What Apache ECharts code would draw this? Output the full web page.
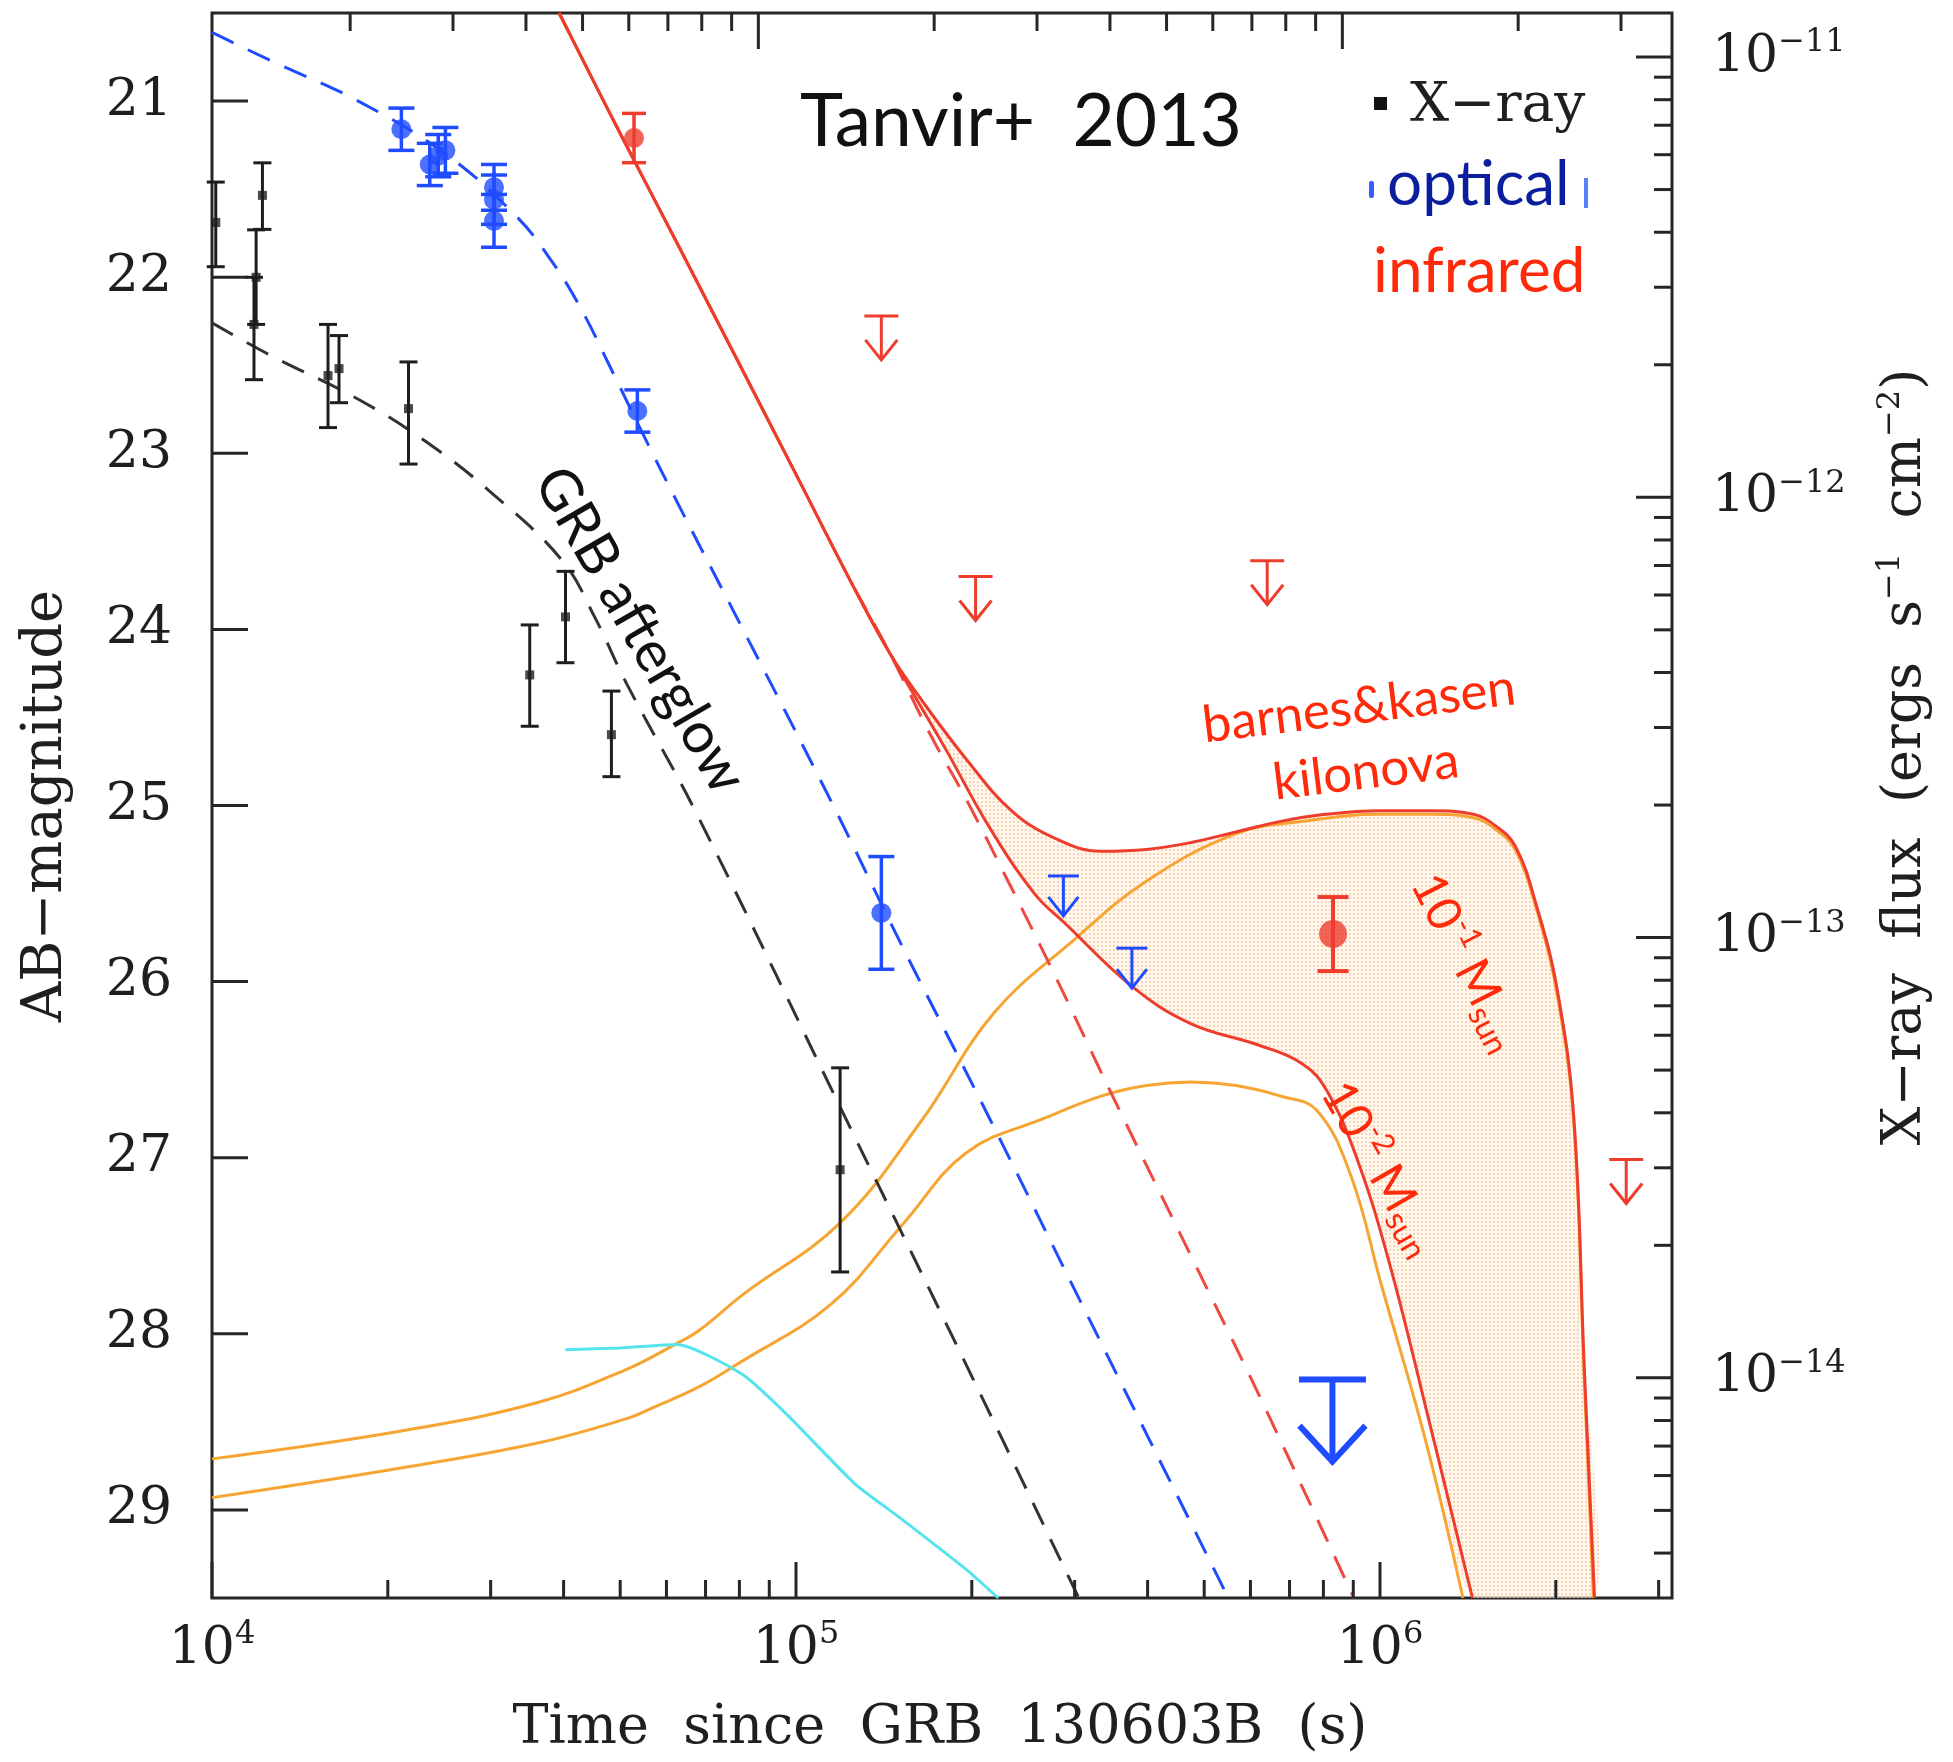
<!DOCTYPE html>
<html>
<head>
<meta charset="utf-8">
<title>GRB 130603B light curve</title>
<script src="https://cdn.jsdelivr.net/npm/echarts@6/dist/echarts.min.js"></script>
<style>
  html, body { margin: 0; padding: 0; background: #ffffff; }
  #chart { width: 1953px; height: 1762px; }
</style>
</head>
<body>
<div id="chart"></div>
<script>
// ---------------------------------------------------------------------------
// Time since GRB 130603B (s); optical/IR in AB magnitudes, X-ray as flux.
// ---------------------------------------------------------------------------

// X-ray detections (erg s^-1 cm^-2)
const xrayTime   = [1.015e4, 1.19e4, 1.18e4, 1.22e4, 1.58e4, 1.65e4, 2.17e4, 3.50e4, 4.03e4, 4.83e4, 1.19e5];
const xrayFlux   = [4.21e-12, 3.16e-12, 2.47e-12, 4.85e-12, 1.89e-12, 1.96e-12, 1.59e-12, 3.95e-13, 5.35e-13, 2.89e-13, 2.97e-14];
const xrayFluxHi = [5.20e-12, 4.05e-12, 3.16e-12, 5.75e-12, 2.47e-12, 2.33e-12, 2.03e-12, 5.13e-13, 6.79e-13, 3.63e-13, 5.06e-14];
const xrayFluxLo = [3.34e-12, 2.47e-12, 1.85e-12, 4.06e-12, 1.44e-12, 1.64e-12, 1.19e-12, 3.02e-13, 4.21e-13, 2.32e-13, 1.74e-14];

// optical detections (AB mag) and 1-sigma errors
const optTime = [2.11e4, 2.36e4, 2.44e4, 2.51e4, 3.04e4, 3.04e4, 3.04e4, 5.35e4, 1.40e5];
const optMag  = [21.16, 21.36, 21.31, 21.28, 21.49, 21.56, 21.68, 22.76, 25.61];
const optErr  = [0.12, 0.12, 0.12, 0.13, 0.13, 0.14, 0.15, 0.12, 0.32];
// optical upper limits
const optLimTime = [2.87e5, 3.76e5];
const optLimMag  = [25.40, 25.81];
const optDeepLimTime = [8.29e5];
const optDeepLimMag  = [28.26];

// near-infrared detections and upper limits
const irTime = [5.28e4];
const irMag  = [21.21];
const irErr  = [0.14];
const irLateTime = [8.31e5];
const irLateMag  = [25.73];
const irLateErr  = [0.21];
const irLimTime = [1.40e5, 2.03e5, 6.41e5, 2.64e6];
const irLimMag  = [22.22, 23.70, 23.61, 27.01];

// afterglow models
const optAgTime = [1.00e4, 1.26e4, 1.78e4, 2.51e4, 3.31e4, 3.80e4, 4.27e4, 4.79e4, 5.43e4, 6.31e4, 7.94e4, 1.15e5, 1.51e5, 2.14e5, 3.16e5, 5.50e5];
const optAgMag  = [20.61, 20.77, 21.00, 21.30, 21.65, 21.90, 22.17, 22.50, 22.87, 23.30, 23.94, 24.98, 25.78, 26.77, 27.90, 29.50];
const xrayAgTime = [1.00e4, 1.26e4, 1.78e4, 2.34e4, 3.02e4, 3.98e4, 4.52e4, 5.13e4, 6.76e4, 1.26e5, 1.95e5, 3.05e5];
const xrayAgFlux = [2.49e-12, 2.10e-12, 1.67e-12, 1.33e-12, 1.02e-12, 7.18e-13, 5.35e-13, 3.77e-13, 1.91e-13, 3.53e-14, 1.08e-14, 3.16e-15];
const irAgTime = [1.26e5, 1.45e5, 1.70e5, 1.96e5, 2.34e5, 2.79e5, 3.45e5, 4.75e5, 6.19e5, 9.02e5];
const irAgMag  = [23.77, 24.14, 24.60, 24.97, 25.47, 25.98, 26.62, 27.56, 28.34, 29.50];

// Barnes & Kasen kilonova, 1e-1 and 1e-2 Msun ejecta (IR)
const kn1Time = [1.00e4, 2.12e4, 3.61e4, 5.14e4, 6.21e4, 6.83e4, 8.09e4, 1.19e5, 1.64e5, 2.18e5, 3.00e5, 3.98e5, 5.67e5, 7.39e5, 1.00e6, 1.224e6, 1.445e6, 1.569e6, 1.704e6, 1.85e6, 2.01e6, 2.147e6, 2.237e6, 2.32e6];
const kn1Mag  = [28.71, 28.55, 28.39, 28.20, 28.06, 27.98, 27.78, 27.37, 26.79, 26.18, 25.76, 25.43, 25.16, 25.09, 25.05, 25.05, 25.07, 25.13, 25.25, 25.58, 26.07, 26.80, 28.25, 29.50];
const kn2Time = [1.00e4, 2.12e4, 3.61e4, 5.14e4, 5.68e4, 6.83e4, 7.95e4, 1.15e5, 1.53e5, 1.96e5, 2.69e5, 3.33e5, 3.98e5, 4.75e5, 5.67e5, 6.76e5, 7.79e5, 8.91e5, 1.005e6, 1.20e6, 1.387e6];
const kn2Mag  = [28.93, 28.76, 28.62, 28.48, 28.42, 28.30, 28.17, 27.83, 27.37, 26.97, 26.77, 26.65, 26.59, 26.57, 26.59, 26.65, 26.73, 27.10, 27.72, 28.62, 29.50];
// optical kilonova
const knOptTime = [4.03e4, 5.0e4, 6.25e4, 8.09e4, 9.66e4, 1.26e5, 1.50e5, 1.96e5, 2.22e5];
const knOptMag  = [28.09, 28.08, 28.06, 28.23, 28.46, 28.85, 29.04, 29.34, 29.50];

// IR afterglow + kilonova totals
const sum1Time = [3.93e4, 5.01e4, 6.31e4, 1.00e5, 1.26e5, 1.45e5, 1.64e5, 1.96e5, 2.34e5, 2.79e5, 3.33e5, 3.98e5, 4.75e5, 5.67e5, 6.76e5, 8.07e5, 1.00e6, 1.224e6, 1.445e6, 1.569e6, 1.704e6, 1.85e6, 2.01e6, 2.147e6, 2.237e6, 2.33e6];
const sum1Mag  = [20.50, 21.19, 21.83, 23.12, 23.77, 24.14, 24.40, 24.74, 25.03, 25.19, 25.26, 25.25, 25.21, 25.15, 25.09, 25.05, 25.03, 25.03, 25.05, 25.11, 25.23, 25.56, 26.04, 26.77, 28.18, 29.50];
const sum2Time = [3.93e4, 5.01e4, 6.31e4, 1.00e5, 1.26e5, 1.45e5, 1.79e5, 2.14e5, 2.56e5, 2.89e5, 3.77e5, 4.75e5, 6.19e5, 7.39e5, 8.11e5, 9.12e5, 1.038e6, 1.225e6, 1.44e6];
const sum2Mag  = [20.50, 21.19, 21.83, 23.12, 23.77, 24.14, 24.66, 25.12, 25.50, 25.67, 26.03, 26.24, 26.36, 26.47, 26.62, 27.00, 27.60, 28.55, 29.50];
const SHADE_START = 1.45e5; // the two totals part ways here

// axis ticks and labels
const timeMajorTicks = [1e4, 1e5, 1e6];
const timeMinorTicks = [2e4, 3e4, 4e4, 5e4, 6e4, 7e4, 8e4, 9e4, 2e5, 3e5, 4e5, 5e5, 6e5, 7e5, 8e5, 9e5, 2e6, 3e6];
const topMajorTicks = [1e5, 1e6];
const topMinorTicks = [2e4, 3e4, 4e4, 5e4, 6e4, 7e4, 8e4, 9e4, 2e5, 3e5, 4e5, 5e5, 6e5, 7e5, 8e5, 9e5, 2e6, 3e6];
const magTicks = [21, 22, 23, 24, 25, 26, 27, 28, 29];
const fluxMajorTicks = [1e-11, 1e-12, 1e-13, 1e-14];
const fluxMinorTicks = [4e-15, 5e-15, 6e-15, 7e-15, 8e-15, 9e-15,
  2e-14, 3e-14, 4e-14, 5e-14, 6e-14, 7e-14, 8e-14, 9e-14,
  2e-13, 3e-13, 4e-13, 5e-13, 6e-13, 7e-13, 8e-13, 9e-13,
  2e-12, 3e-12, 4e-12, 5e-12, 6e-12, 7e-12, 8e-12, 9e-12];

// ---------------------------------------------------------------------------
const T_MIN = 1e4, T_MAX = Math.pow(10, 6.5);
const TOP_AXIS_FACTOR = 1.16;          // the upper time axis runs offset from the lower one
const MAG_MIN = 20.5, MAG_MAX = 29.5;
// flux axis counts in units of 1e-15 erg s^-1 cm^-2 (m = 20.75 - 2.5 (log F + 11))
const FLUX_UNIT = 1e-15;
const FLUX_AX_MIN = Math.pow(10, -14.5) / FLUX_UNIT;
const FLUX_AX_MAX = Math.pow(10, -10.9) / FLUX_UNIT;

const AXIS_COLOR = '#262626';
const TEXT_COLOR = '#1f1f1f';
const BLUE = '#1f4cff';
const RED = '#ee3d2d';
const RED_TEXT = '#ff2a0a';
const ORANGE = '#f6a532';
const CYAN = '#55e3ee';
const BLACK = '#1e1e1e';
const SANS = 'Lato, "Open Sans", sans-serif';
const SERIF = '"DejaVu Serif", serif';
const MAJOR_LEN = 36, MINOR_LEN = 18, TICK_W = 3;

function pairs(times, values, scale) {
  return times.map((t, i) => [t, scale ? values[i] / scale : values[i]]);
}

function lineSeries(name, times, values, color, opts) {
  opts = opts || {};
  return {
    type: 'line', name,
    yAxisIndex: opts.yAxisIndex || 0,
    data: pairs(times, values, opts.scale),
    showSymbol: false, symbol: 'none', silent: true, clip: true,
    smooth: opts.smooth == null ? 0.4 : opts.smooth,
    lineStyle: { color, width: opts.width || 3, type: opts.dash || 'solid' },
    z: opts.z || 3
  };
}

function errorBars(name, times, lo, hi, color, capW, lw, yAxisIndex) {
  return {
    type: 'custom', name, yAxisIndex: yAxisIndex || 0, silent: true, z: 6,
    data: times.map((t, i) => [t, lo[i], hi[i]]),
    renderItem(params, api) {
      const a = api.coord([api.value(0), api.value(1)]);
      const b = api.coord([api.value(0), api.value(2)]);
      const st = { stroke: color, lineWidth: lw };
      return { type: 'group', children: [
        { type: 'line', shape: { x1: a[0], y1: a[1], x2: b[0], y2: b[1] }, style: st },
        { type: 'line', shape: { x1: a[0] - capW / 2, y1: a[1], x2: a[0] + capW / 2, y2: a[1] }, style: st },
        { type: 'line', shape: { x1: b[0] - capW / 2, y1: b[1], x2: b[0] + capW / 2, y2: b[1] }, style: st }
      ] };
    }
  };
}

function upperLimits(name, times, mags, color, o) {
  return {
    type: 'custom', name, silent: true, z: 6,
    data: pairs(times, mags),
    renderItem(params, api) {
      const p = api.coord([api.value(0), api.value(1)]);
      const x = p[0], y = p[1], tip = y + o.len;
      const st = { stroke: color, lineWidth: o.lw, fill: null, lineJoin: 'miter' };
      return { type: 'group', children: [
        { type: 'line', shape: { x1: x - o.cap / 2, y1: y, x2: x + o.cap / 2, y2: y }, style: st },
        { type: 'line', shape: { x1: x, y1: y, x2: x, y2: tip }, style: st },
        { type: 'polyline', shape: { points: [[x - o.head / 2, tip - o.headH], [x, tip], [x + o.head / 2, tip - o.headH]] }, style: st }
      ] };
    }
  };
}

function dotPattern() {
  const c = document.createElement('canvas');
  c.width = 4; c.height = 4;
  const g = c.getContext('2d');
  g.fillStyle = 'rgba(255, 240, 226, 0.5)';
  g.fillRect(0, 0, 4, 4);
  g.fillStyle = 'rgba(248, 196, 145, 0.7)';
  g.fillRect(1, 1, 2, 2);
  return c;
}

// region between the two afterglow + kilonova totals
const kilonovaBand = {
  type: 'custom', name: 'kilonova range', silent: true, clip: true, z: 1,
  data: [[SHADE_START, 25]],
  renderItem(params, api) {
    const pts = [];
    sum1Time.forEach((t, i) => { if (t >= SHADE_START) pts.push(api.coord([t, sum1Mag[i]])); });
    for (let i = sum2Time.length - 1; i >= 0; i--) {
      if (sum2Time[i] >= SHADE_START) pts.push(api.coord([sum2Time[i], sum2Mag[i]]));
    }
    return { type: 'polygon', shape: { points: pts, smooth: 0.2 },
             style: { fill: { image: dotPattern(), repeat: 'repeat' }, stroke: null } };
  }
};

function tickLine(x1, y1, x2, y2) {
  return { type: 'line', shape: { x1, y1, x2, y2 }, style: { stroke: AXIS_COLOR, lineWidth: TICK_W } };
}

// inward ticks on bottom, top and left edges
const frameTicks = {
  type: 'custom', name: 'ticks', silent: true, clip: false, z: 10,
  data: [[T_MIN, 25]],
  renderItem(params, api) {
    const cs = params.coordSys;
    const left = cs.x, top = cs.y, right = cs.x + cs.width, bottom = cs.y + cs.height;
    const kids = [];
    const tx = v => api.coord([v, 25])[0];
    timeMajorTicks.forEach(v => { const x = tx(v); kids.push(tickLine(x, bottom, x, bottom - MAJOR_LEN)); });
    timeMinorTicks.forEach(v => { const x = tx(v); kids.push(tickLine(x, bottom, x, bottom - MINOR_LEN)); });
    topMajorTicks.forEach(v => { const x = tx(v / TOP_AXIS_FACTOR); if (x > left && x < right) kids.push(tickLine(x, top, x, top + MAJOR_LEN)); });
    topMinorTicks.forEach(v => { const x = tx(v / TOP_AXIS_FACTOR); if (x > left && x < right) kids.push(tickLine(x, top, x, top + MINOR_LEN)); });
    magTicks.forEach(m => { const y = api.coord([T_MIN, m])[1]; kids.push(tickLine(left, y, left + MAJOR_LEN, y)); });
    return { type: 'group', children: kids };
  }
};

// inward ticks on the right (flux) edge
const fluxTicks = {
  type: 'custom', name: 'flux ticks', yAxisIndex: 1, silent: true, clip: false, z: 10,
  data: [[T_MIN, 100]],
  renderItem(params, api) {
    const cs = params.coordSys;
    const right = cs.x + cs.width;
    const kids = [];
    fluxMajorTicks.forEach(f => { const y = api.coord([T_MIN, f / FLUX_UNIT])[1]; kids.push(tickLine(right, y, right - MAJOR_LEN, y)); });
    fluxMinorTicks.forEach(f => { const y = api.coord([T_MIN, f / FLUX_UNIT])[1]; kids.push(tickLine(right, y, right - MINOR_LEN, y)); });
    return { type: 'group', children: kids };
  }
};

const powerRich = {
  b: { fontFamily: SERIF, fontSize: 52, color: TEXT_COLOR, lineHeight: 60 },
  s: { fontFamily: SERIF, fontSize: 32, color: TEXT_COLOR, lineHeight: 36, verticalAlign: 'top' }
};

function isPow10(v) {
  const e = Math.log10(v);
  return Math.abs(e - Math.round(e)) < 1e-6;
}

const option = {
  animation: false,
  backgroundColor: '#ffffff',
  grid: { left: 212, top: 13, width: 1460, height: 1585, show: true,
          borderColor: AXIS_COLOR, borderWidth: 3, backgroundColor: 'transparent' },
  xAxis: [{
    type: 'log', min: T_MIN, max: T_MAX, position: 'bottom',
    axisLine: { show: false }, axisTick: { show: false }, splitLine: { show: false },
    axisLabel: {
      interval: 0, showMinLabel: true, showMaxLabel: false, margin: 21,
      formatter: v => isPow10(v) ? '{b|10}{s|' + Math.round(Math.log10(v)) + '}' : '',
      rich: powerRich
    }
  }],
  yAxis: [{
    type: 'value', inverse: true, min: MAG_MIN, max: MAG_MAX, splitNumber: 9, position: 'left',
    axisLine: { show: false }, axisTick: { show: false }, splitLine: { show: false },
    axisLabel: {
      showMinLabel: false, showMaxLabel: false, margin: 40,
      fontFamily: SERIF, fontSize: 52, color: TEXT_COLOR,
      formatter: v => magTicks.indexOf(v) >= 0 ? String(v) : ''
    }
  }, {
    type: 'log', min: FLUX_AX_MIN, max: FLUX_AX_MAX, position: 'right',
    axisLine: { show: false }, axisTick: { show: false }, splitLine: { show: false },
    axisLabel: {
      showMinLabel: false, showMaxLabel: false, margin: 40,
      formatter: v => {
        const f = v * FLUX_UNIT;
        return isPow10(f) ? '{b|10}{s|−' + Math.abs(Math.round(Math.log10(f))) + '}' : '';
      },
      rich: powerRich
    }
  }],
  series: [
    kilonovaBand,
    lineSeries('kilonova 1e-1 Msun', kn1Time, kn1Mag, ORANGE, { z: 2 }),
    lineSeries('kilonova 1e-2 Msun', kn2Time, kn2Mag, ORANGE, { z: 2 }),
    lineSeries('optical kilonova', knOptTime, knOptMag, CYAN, { z: 2, smooth: 0.2 }),
    lineSeries('X-ray afterglow', xrayAgTime, xrayAgFlux, '#333333', { yAxisIndex: 1, scale: FLUX_UNIT, dash: [24, 16] }),
    lineSeries('optical afterglow', optAgTime, optAgMag, BLUE, { dash: [24, 16] }),
    lineSeries('IR afterglow', irAgTime, irAgMag, '#ee4a40', { dash: [24, 16] }),
    lineSeries('afterglow + 1e-2 Msun', sum2Time, sum2Mag, RED, { z: 4 }),
    lineSeries('afterglow + 1e-1 Msun', sum1Time, sum1Mag, RED, { z: 4 }),

    errorBars('X-ray errors', xrayTime, xrayFluxLo.map(f => f / FLUX_UNIT), xrayFluxHi.map(f => f / FLUX_UNIT), BLACK, 18, 3, 1),
    { type: 'scatter', name: 'X-ray', yAxisIndex: 1, data: pairs(xrayTime, xrayFlux, FLUX_UNIT),
      symbol: 'rect', symbolSize: 9, itemStyle: { color: BLACK }, silent: true, z: 7 },

    errorBars('optical errors', optTime, optMag.map((m, i) => m - optErr[i]), optMag.map((m, i) => m + optErr[i]), BLUE, 26, 3.5),
    { type: 'scatter', name: 'optical', data: pairs(optTime, optMag),
      symbol: 'circle', symbolSize: 20, itemStyle: { color: BLUE }, silent: true, z: 7 },
    upperLimits('optical limits', optLimTime, optLimMag, BLUE, { cap: 31, len: 40, head: 30, headH: 19, lw: 3 }),
    upperLimits('deep optical limit', optDeepLimTime, optDeepLimMag, BLUE, { cap: 67, len: 82, head: 66, headH: 36, lw: 6 }),

    errorBars('IR errors', irTime, irMag.map((m, i) => m - irErr[i]), irMag.map((m, i) => m + irErr[i]), RED, 24, 3.5),
    { type: 'scatter', name: 'infrared', data: pairs(irTime, irMag),
      symbol: 'circle', symbolSize: 20, itemStyle: { color: RED }, silent: true, z: 7 },
    errorBars('late IR errors', irLateTime, irLateMag.map((m, i) => m - irLateErr[i]), irLateMag.map((m, i) => m + irLateErr[i]), RED, 31, 4),
    { type: 'scatter', name: 'late infrared', data: pairs(irLateTime, irLateMag),
      symbol: 'circle', symbolSize: 28, itemStyle: { color: RED }, silent: true, z: 7 },
    upperLimits('IR limits', irLimTime, irLimMag, RED, { cap: 34, len: 44, head: 32, headH: 20, lw: 3 }),

    frameTicks,
    fluxTicks
  ],
  graphic: [
    { type: 'text', x: 800, y: 122, z: 100, silent: true,
      style: { text: 'Tanvir+  2013', fontFamily: SANS, fontSize: 73, fill: '#111111', align: 'left', verticalAlign: 'middle' } },
    { type: 'rect', z: 100, silent: true, shape: { x: 1374, y: 97, width: 13, height: 13 }, style: { fill: '#111111' } },
    { type: 'text', x: 1410, y: 107, z: 100, silent: true,
      style: { text: 'X−ray', fontFamily: SERIF, fontSize: 55, fill: TEXT_COLOR, align: 'left', verticalAlign: 'middle' } },
    { type: 'rect', z: 100, silent: true, shape: { x: 1369, y: 181, width: 5, height: 17, r: 2 }, style: { fill: '#3a5cff' } },
    { type: 'rect', z: 100, silent: true, shape: { x: 1584, y: 178, width: 4, height: 30 }, style: { fill: '#5a80ff' } },
    { type: 'text', x: 1387, y: 185, z: 100, silent: true,
      style: { text: 'optical', fontFamily: SANS, fontSize: 62, fill: '#0b1f9e', align: 'left', verticalAlign: 'middle' } },
    { type: 'text', x: 1373, y: 272, z: 100, silent: true,
      style: { text: 'infrared', fontFamily: SANS, fontSize: 62, fill: RED_TEXT, align: 'left', verticalAlign: 'middle' } },
    { type: 'text', x: 1359, y: 707, rotation: 7 * Math.PI / 180, z: 100, silent: true,
      style: { text: 'barnes&kasen', fontFamily: SANS, fontSize: 51, fill: RED_TEXT, align: 'center', verticalAlign: 'middle' } },
    { type: 'text', x: 1366, y: 772, rotation: 7 * Math.PI / 180, z: 100, silent: true,
      style: { text: 'kilonova', fontFamily: SANS, fontSize: 51, fill: RED_TEXT, align: 'center', verticalAlign: 'middle' } },
    { type: 'text', x: 640, y: 630, rotation: -60 * Math.PI / 180, z: 100, silent: true,
      style: { text: 'GRB afterglow', fontFamily: SANS, fontSize: 57, fill: '#111111', align: 'center', verticalAlign: 'middle' } },
    { type: 'text', x: 1467, y: 962, rotation: -63 * Math.PI / 180, z: 100, silent: true,
      style: { text: '10{sup|-1} M{sub|sun}', fontFamily: SANS, fontSize: 48, fill: RED_TEXT, align: 'center', verticalAlign: 'middle', lineHeight: 58,
               rich: { sup: { fontFamily: SANS, fontSize: 30, fill: RED_TEXT, verticalAlign: 'top', lineHeight: 34 },
                       sub: { fontFamily: SANS, fontSize: 32, fill: RED_TEXT, verticalAlign: 'bottom', lineHeight: 34 } } } },
    { type: 'text', x: 1381, y: 1168, rotation: -60 * Math.PI / 180, z: 100, silent: true,
      style: { text: '10{sup|-2} M{sub|sun}', fontFamily: SANS, fontSize: 48, fill: RED_TEXT, align: 'center', verticalAlign: 'middle', lineHeight: 58,
               rich: { sup: { fontFamily: SANS, fontSize: 30, fill: RED_TEXT, verticalAlign: 'top', lineHeight: 34 },
                       sub: { fontFamily: SANS, fontSize: 32, fill: RED_TEXT, verticalAlign: 'bottom', lineHeight: 34 } } } },
    { type: 'text', x: 46, y: 806, rotation: Math.PI / 2, z: 100, silent: true,
      style: { text: 'AB−magnitude', fontFamily: SERIF, fontSize: 56, fill: TEXT_COLOR, align: 'center', verticalAlign: 'middle' } },
    { type: 'text', x: 940, y: 1729, z: 100, silent: true,
      style: { text: 'Time  since  GRB  130603B  (s)', fontFamily: SERIF, fontSize: 54, fill: TEXT_COLOR, align: 'center', verticalAlign: 'middle' } },
    { type: 'text', x: 1906, y: 757, rotation: Math.PI / 2, z: 100, silent: true,
      style: { text: 'X−ray  flux  (ergs  s{s|−1}  cm{s|−2})', fontFamily: SERIF, fontSize: 54, fill: TEXT_COLOR, align: 'center', verticalAlign: 'middle', lineHeight: 62,
               rich: { s: { fontFamily: SERIF, fontSize: 32, fill: TEXT_COLOR, verticalAlign: 'top', lineHeight: 36 } } } }
  ]
};

const chart = echarts.init(document.getElementById('chart'), null, { renderer: 'canvas' });
chart.setOption(option);
</script>
</body>
</html>
